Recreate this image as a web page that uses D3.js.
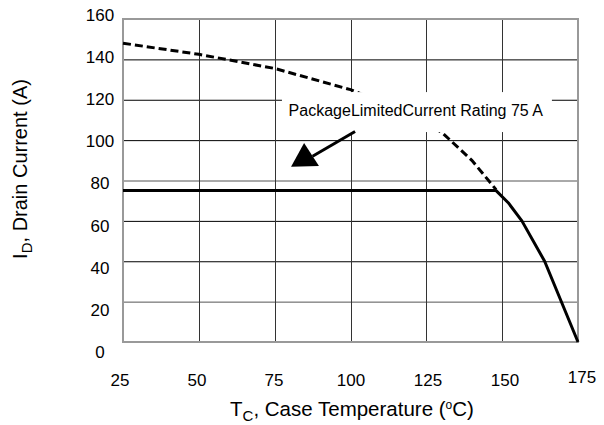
<!DOCTYPE html>
<html>
<head>
<meta charset="utf-8">
<script src="https://cdn.jsdelivr.net/npm/d3@7"></script>
<style>
  body { margin: 0; background: #fff; }
  text { font-family: "Liberation Sans", Arial, sans-serif; fill: #000; }
</style>
</head>
<body>
<svg id="chart" width="604" height="425"></svg>
<script>
var X_TICKS = [25, 50, 75, 100, 125, 150, 175];
var Y_TICKS = [0, 20, 40, 60, 80, 100, 120, 140, 160];

// theoretical (silicon limited) curve, drawn dashed above the package limit
var DASHED_T = [25, 50, 75, 100, 115, 130, 140, 148];
var DASHED_I = [148, 142.5, 135.5, 125, 116, 104, 90, 75.5];

// package limited rating, then derating to zero
var SOLID_T = [25, 148, 152, 156.5, 164, 175];
var SOLID_I = [75, 75, 69, 60, 40, 0];

var NOTE = "PackageLimitedCurrent Rating 75 A";

var svg = d3.select("#chart");

var x = d3.scaleLinear().domain([25, 175]).range([123, 578]);
var y = d3.scaleLinear().domain([0, 160]).range([342, 19]);
// tick labels sit a little off the grid in the original
var xLab = d3.scaleLinear().domain([25, 175]).range([120, 582]);
var yLab = d3.scaleLinear().domain([0, 160]).range([352, 15]);

// grid
svg.append("g").selectAll("line")
  .data(Y_TICKS.slice(1, -1))
  .enter().append("line")
  .attr("x1", x(25)).attr("x2", x(175))
  .attr("y1", d => y(d) + 0.5).attr("y2", d => y(d) + 0.5)
  .attr("stroke", d => d == 80 || d == 20 ? "#555" : "#000")
  .attr("stroke-width", 1);

svg.append("g").selectAll("line")
  .data(X_TICKS.slice(1, -1))
  .enter().append("line")
  .attr("x1", d => Math.round(x(d)) + 0.5).attr("x2", d => Math.round(x(d)) + 0.5)
  .attr("y1", y(160)).attr("y2", y(0))
  .attr("stroke", "#333")
  .attr("stroke-width", 1);

// frame
svg.append("rect")
  .attr("x", x(25)).attr("y", y(160))
  .attr("width", x(175) - x(25)).attr("height", y(0) - y(160))
  .attr("fill", "none")
  .attr("stroke", "#999")
  .attr("stroke-width", 2);

var line = d3.line()
  .x(d => x(d[0]))
  .y(d => y(d[1]));

svg.append("path")
  .datum(d3.zip(DASHED_T, DASHED_I))
  .attr("d", line)
  .attr("fill", "none")
  .attr("stroke", "#000")
  .attr("stroke-width", 3)
  .attr("stroke-dasharray", "8,4");

svg.append("path")
  .datum(d3.zip(SOLID_T, SOLID_I))
  .attr("d", line)
  .attr("fill", "none")
  .attr("stroke", "#000")
  .attr("stroke-width", 3)
  .attr("stroke-linejoin", "round");

// annotation box covers the grid and curve
svg.append("rect")
  .attr("x", x(77.4)).attr("y", y(123.8))
  .attr("width", x(166.4) - x(77.4)).attr("height", y(104) - y(123.8))
  .attr("fill", "#fff");

svg.append("text")
  .attr("x", x(79.6)).attr("y", y(111.8))
  .style("font-size", "16px")
  .text(NOTE);

svg.append("line")
  .attr("x1", x(101.5)).attr("y1", y(104.3))
  .attr("x2", x(87.5)).attr("y2", y(92))
  .attr("stroke", "#000")
  .attr("stroke-width", 3);

svg.append("path")
  .attr("d", d3.line()([[x(84.7), y(98.6)], [x(80.4), y(86.8)], [x(89.6), y(87.2)]]) + "Z")
  .attr("fill", "#000");

// tick labels
svg.append("g").selectAll("text")
  .data(X_TICKS)
  .enter().append("text")
  .attr("x", d => xLab(d))
  .attr("y", d => d == 175 ? 383 : 386)
  .attr("text-anchor", "middle")
  .style("font-size", "17px")
  .text(d => d);

svg.append("g").selectAll("text")
  .data(Y_TICKS)
  .enter().append("text")
  .attr("x", 100)
  .attr("y", d => yLab(d))
  .attr("dy", "0.35em")
  .attr("text-anchor", "middle")
  .style("font-size", "17px")
  .text(d => d);

// axis titles
var xt = svg.append("text")
  .attr("x", 352).attr("y", 416)
  .attr("text-anchor", "middle")
  .style("font-size", "20.5px");
xt.append("tspan").text("T");
xt.append("tspan").attr("dy", 5).style("font-size", "15px").text("C");
xt.append("tspan").attr("dy", -5).text(", Case Temperature (");
xt.append("tspan").attr("dy", -7).style("font-size", "12px").text("o");
xt.append("tspan").attr("dy", 7).text("C)");

var yt = svg.append("text")
  .attr("transform", "translate(27,169) rotate(-90)")
  .attr("text-anchor", "middle")
  .style("font-size", "20px");
yt.append("tspan").text("I");
yt.append("tspan").attr("dy", 5).style("font-size", "15px").text("D");
yt.append("tspan").attr("dy", -5).text(", Drain Current (A)");
</script>
</body>
</html>
